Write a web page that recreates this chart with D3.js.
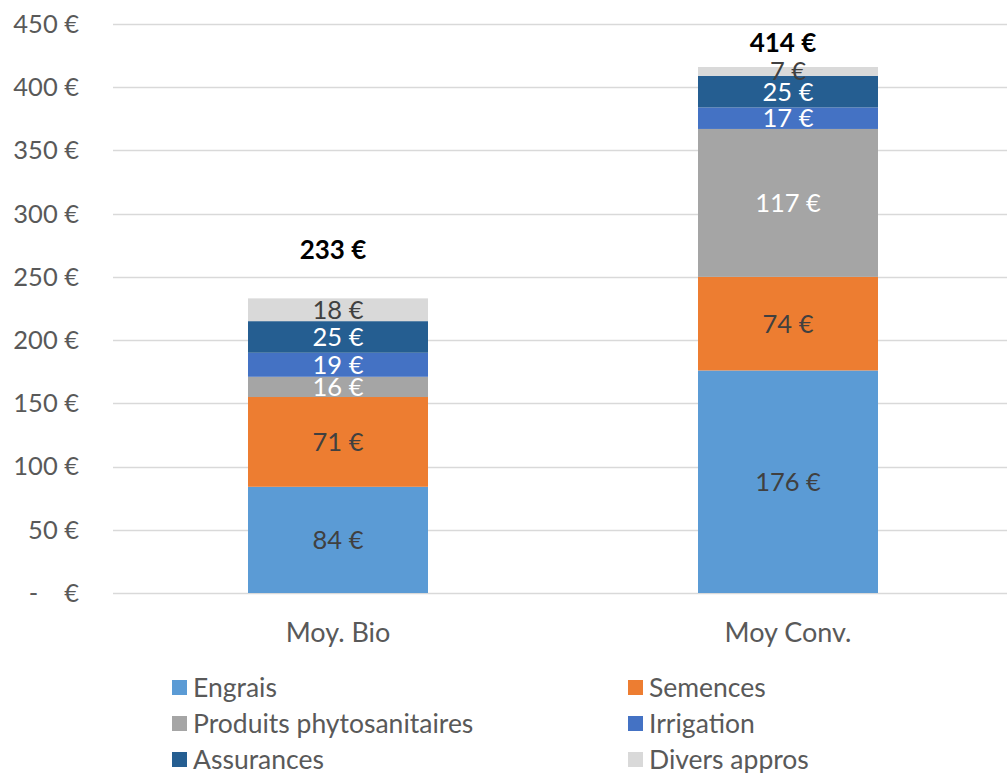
<!DOCTYPE html>
<html>
<head>
<meta charset="utf-8">
<script src="https://cdn.jsdelivr.net/npm/d3@7"></script>
<style>
  body { margin: 0; background: #fff; }
  svg { display: block; font-family: Lato, "Open Sans", sans-serif; }
</style>
</head>
<body>
<div id="chart"></div>
<script>
const categories = ["Moy. Bio", "Moy Conv."];
const seriesNames = ["Engrais", "Semences", "Produits phytosanitaires", "Irrigation", "Assurances", "Divers appros"];
const engrais = [84, 176];
const semences = [71, 74];
const phyto = [16, 117];
const irrigation = [19, 17];
const assurances = [25, 25];
const divers = [18, 7];
const totals = [233, 414];
const yTicks = [0, 50, 100, 150, 200, 250, 300, 350, 400, 450];

const colors = ["#5B9BD5", "#ED7D31", "#A5A5A5", "#4472C4", "#255E91", "#D9D9D9"];
const labelColors = ["#404040", "#404040", "#ffffff", "#ffffff", "#ffffff", "#404040"];
// gap (px) between bar top and its total label
const totalGap = [48, 24];

const W = 1007, H = 773;
const svg = d3.select("#chart").append("svg").attr("width", W).attr("height", H);

const x = d3.scaleBand().domain(categories).range([113, 1013]).paddingInner(0.6).paddingOuter(0.3);
const y = d3.scaleLinear().domain([0, 450]).range([593, 24]);

const rows = categories.map((c, i) => ({
  cat: c,
  "Engrais": engrais[i],
  "Semences": semences[i],
  "Produits phytosanitaires": phyto[i],
  "Irrigation": irrigation[i],
  "Assurances": assurances[i],
  "Divers appros": divers[i]
}));
const stacked = d3.stack().keys(seriesNames)(rows);
const barTop = rows.map(r => d3.sum(seriesNames, k => r[k]));

// grid
svg.append("g")
  .selectAll("line")
  .data(yTicks)
  .join("line")
  .attr("x1", 113).attr("x2", W)
  .attr("y1", d => Math.round(y(d)) + 0.5)
  .attr("y2", d => Math.round(y(d)) + 0.5)
  .attr("stroke", "#d9d9d9")
  .attr("stroke-width", 1.3);

// y axis labels
svg.append("g")
  .selectAll("text")
  .data(yTicks)
  .join("text")
  .attr("x", 79)
  .attr("y", d => y(d))
  .attr("dy", "0.35em")
  .attr("text-anchor", "end")
  .attr("fill", "#595959")
  .style("font-size", "25.5px")
  .style("white-space", "pre")
  .text(d => d === 0 ? "-    €" : d + " €");

// bars
const layer = svg.append("g")
  .selectAll("g")
  .data(stacked)
  .join("g")
  .attr("fill", (d, i) => colors[i]);

layer.selectAll("rect")
  .data(d => d)
  .join("rect")
  .attr("x", d => x(d.data.cat))
  .attr("width", x.bandwidth())
  .attr("y", d => y(d[1]))
  .attr("height", d => y(d[0]) - y(d[1]));

// segment labels
stacked.forEach((s, si) => {
  svg.append("g")
    .selectAll("text")
    .data(s)
    .join("text")
    .attr("x", d => x(d.data.cat) + x.bandwidth() / 2)
    .attr("y", d => (y(d[0]) + y(d[1])) / 2)
    .attr("dy", "0.35em")
    .attr("text-anchor", "middle")
    .attr("fill", labelColors[si])
    .style("font-size", "25.5px")
    .text(d => (d[1] - d[0]) + " €");
});

// totals
svg.append("g")
  .selectAll("text")
  .data(categories)
  .join("text")
  .attr("x", d => x(d) + x.bandwidth() / 2 - 5)
  .attr("y", (d, i) => y(barTop[i]) - totalGap[i])
  .attr("dy", "0.35em")
  .attr("text-anchor", "middle")
  .attr("fill", "#000")
  .style("font-size", "26px")
  .style("font-weight", "bold")
  .text((d, i) => totals[i] + " €");

// x labels
svg.append("g")
  .selectAll("text")
  .data(categories)
  .join("text")
  .attr("x", d => x(d) + x.bandwidth() / 2)
  .attr("y", 633)
  .attr("dy", "0.35em")
  .attr("text-anchor", "middle")
  .attr("fill", "#595959")
  .style("font-size", "27px")
  .text(d => d);

// legend
const legend = svg.append("g")
  .selectAll("g")
  .data(seriesNames)
  .join("g")
  .attr("transform", (d, i) => `translate(${i % 2 === 0 ? 172 : 628},${688 + Math.floor(i / 2) * 36})`);
legend.append("rect")
  .attr("x", 0).attr("y", -8)
  .attr("width", 15).attr("height", 15)
  .attr("fill", (d, i) => colors[i]);
legend.append("text")
  .attr("x", 21).attr("y", 0)
  .attr("dy", "0.33em")
  .attr("fill", "#595959")
  .style("font-size", "26.5px")
  .text(d => d);
</script>
</body>
</html>
